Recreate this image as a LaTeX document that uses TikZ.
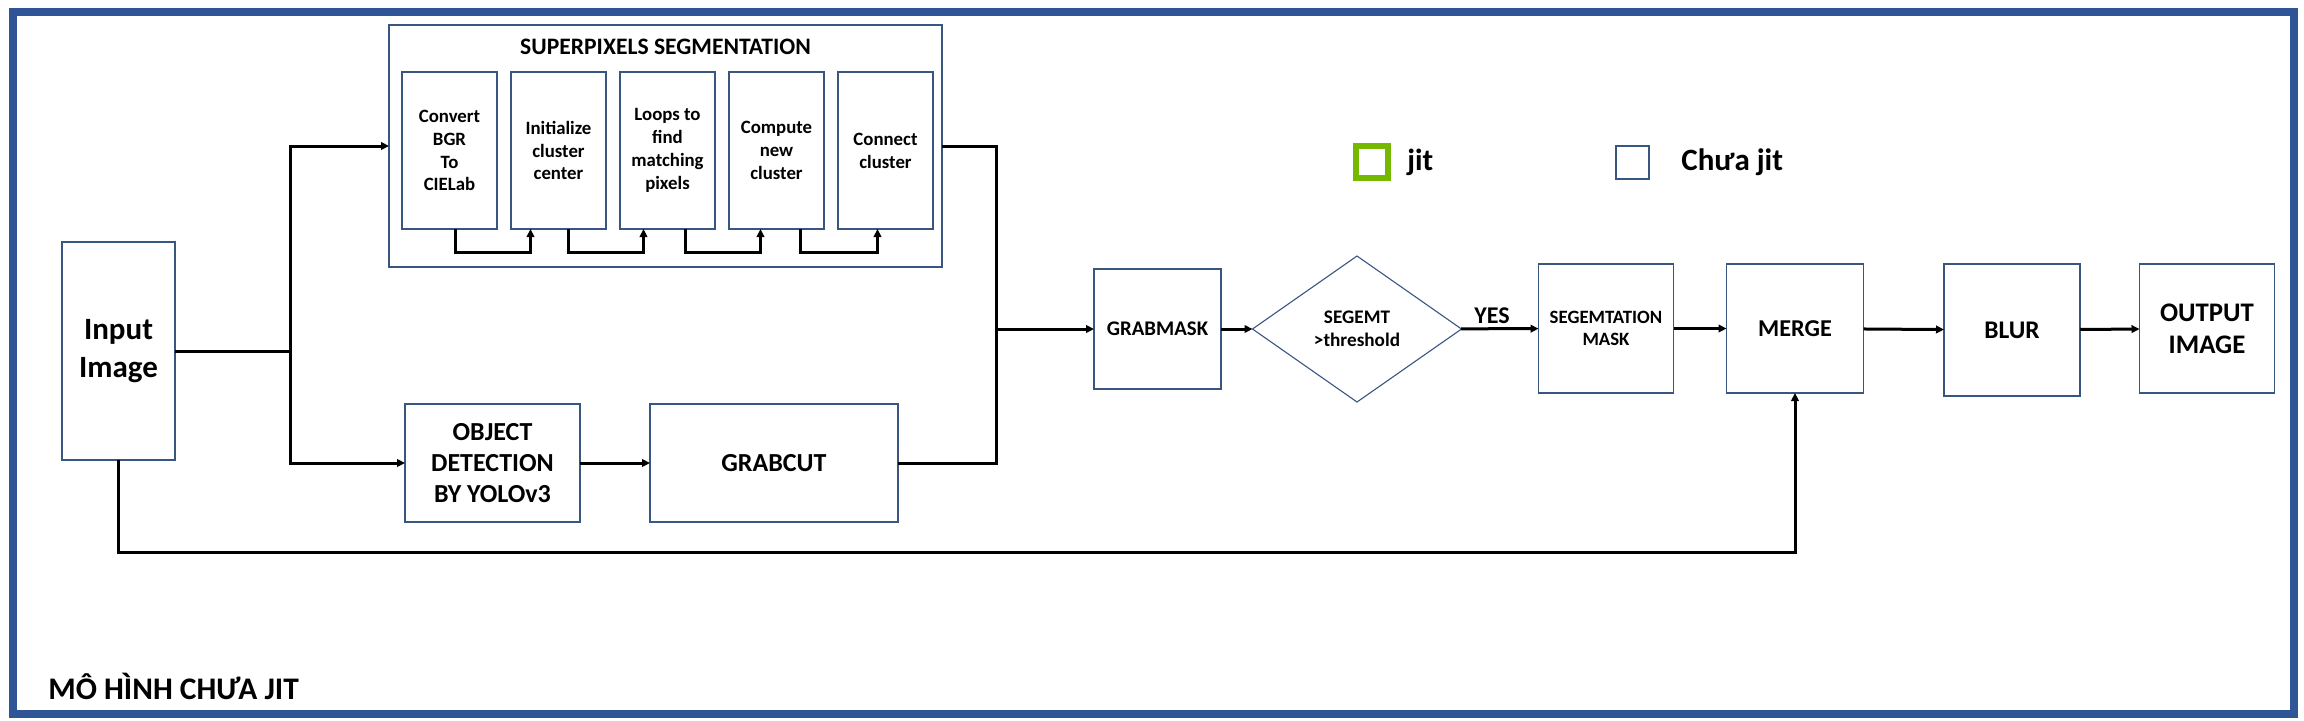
\documentclass[tikz,border=0pt]{standalone}
\usepackage{fontspec}
\setmainfont{Carlito}
\usetikzlibrary{shapes.geometric, arrows.meta, positioning, calc}

\definecolor{frameblue}{RGB}{47,85,151}
\definecolor{edgeblue}{RGB}{56,86,128}
\definecolor{jitgreen}{RGB}{118,184,0}
\newcommand{\fsz}[2]{\fontsize{#1}{#2}\selectfont}

\begin{document}
\begin{tikzpicture}[x=0.5pt, y=-0.5pt,
    block/.style={rectangle, draw=edgeblue, line width=0.55pt, outer sep=0pt, align=center, inner sep=1pt, font=\bfseries},
    stage/.style={block, minimum width=47.5pt, minimum height=78.5pt, font=\bfseries\fsz{9.4}{11.4}},
    tall/.style={block, minimum width=67.5pt, minimum height=64.5pt},
    decision/.style={diamond, draw=edgeblue, line width=0.55pt, outer sep=0pt, align=center, inner sep=0pt, minimum width=104.5pt, minimum height=73pt, font=\bfseries\fsz{9.6}{11.4}},
    label/.style={inner sep=0pt, font=\bfseries},
    line/.style={line width=1.5pt, black},
    arrow/.style={line, -{Triangle[length=4pt, width=3.8pt]}}]

    \useasboundingbox (0,0) rectangle (2304,720);
    \draw[frameblue, line width=4pt] (13,12) rectangle (2294,714);

    % Input
    \node[block, minimum width=56.5pt, minimum height=109pt, font=\bfseries\fsz{15.5}{19}] (input) at (118.5,351) {Input\\Image};

    % Superpixels segmentation container
    \node[block, minimum width=276.5pt, minimum height=121pt] (spx) at (665.5,146) {};
    \node[label, font=\bfseries\fsz{11.8}{14}] (spx_title) at (665.5,47) {SUPERPIXELS SEGMENTATION};
    \node[stage] (convert) at (449.5,150.5) {Convert\\BGR\\To\\CIELab};
    \node[stage, right=7pt of convert] (init) {Initialize\\cluster\\center};
    \node[stage, right=7pt of init] (loops) {Loops to\\find\\matching\\pixels};
    \node[stage, right=7pt of loops] (compute) {Compute\\new\\cluster};
    \node[stage, right=7pt of compute] (connect) {Connect\\cluster};

    \foreach \a/\b/\d/\u in {convert/init/3/-14, init/loops/5/-12, loops/compute/9/-8, compute/connect/12/-4}
        \draw[arrow] ([xshift=\d pt]\a.south) -- ++(0,23) -| ([xshift=\u pt]\b.south);

    % Object detection branch
    \node[block, minimum width=87.5pt, minimum height=59pt, font=\bfseries\fsz{13}{15.5}] (objdet) at (492.5,463) {OBJECT\\DETECTION\\BY YOLOv3};
    \node[block, minimum width=124pt, minimum height=59pt, font=\bfseries\fsz{13}{15.5}, right=35pt of objdet] (grabcut) {GRABCUT};

    % Main chain
    \node[block, minimum width=63.5pt, minimum height=60pt, font=\bfseries\fsz{10.4}{12.5}] (grabmask) at (1157.5,329) {GRABMASK};
    \node[decision] (thresh) at (1357,329) {SEGEMT\\>threshold};
    \node[tall, font=\bfseries\fsz{9.4}{11.3}] (segmask) at (1606,328.5) {SEGEMTATION\\MASK};
    \node[tall, minimum width=68.5pt, font=\bfseries\fsz{12.1}{14.5}] (merge) at (1795,328.5) {MERGE};
    \node[tall, minimum width=68pt, minimum height=66pt, font=\bfseries\fsz{12.7}{15}] (blur) at (2012,330) {BLUR};
    \node[tall, font=\bfseries\fsz{13.4}{15.8}] (output) at (2207,328.5) {OUTPUT\\IMAGE};

    % Connectors
    \coordinate (split) at (290,351);
    \coordinate (join) at (996,329);
    \coordinate (low) at (1795,552);
    \draw[line] (input.east) -- (split);
    \draw[arrow] (split) |- (spx.west);
    \draw[arrow] (split) |- (objdet.west);
    \draw[arrow] (objdet) -- (grabcut);
    \draw[line] (spx.east) -| (join);
    \draw[line] (grabcut.east) -| (join);
    \draw[arrow] (join) -- (grabmask.west);
    \draw[arrow] (grabmask) -- (thresh);
    \draw[arrow] (thresh) -- node[pos=0.4, above, inner sep=2pt, font=\bfseries\fsz{12}{14}] {YES} (segmask);
    \draw[arrow] (segmask) -- (merge);
    \draw[arrow] (merge) -- (blur);
    \draw[arrow] (blur) -- (output);
    \draw[arrow] (input.south) |- (low) -- (merge.south);

    % Legend
    \node[draw=jitgreen, line width=3pt, minimum size=16pt, inner sep=0pt] (key_jit) at (1372,162) {};
    \node[label, anchor=west, font=\bfseries\fsz{15.3}{18}] (key_jit_text) at (1407,162) {jit};
    \node[draw=edgeblue, line width=0.55pt, minimum size=16.5pt, inner sep=0pt] (key_raw) at (1632.5,162.5) {};
    \node[label, anchor=west, font=\bfseries\fsz{15.5}{18}] (key_raw_text) at (1681,162) {Chưa jit};

    % Caption
    \node[label, anchor=base west, font=\bfseries\fsz{15.7}{18}] (caption) at (48,699) {MÔ HÌNH CHƯA JIT};
\end{tikzpicture}
\end{document}
